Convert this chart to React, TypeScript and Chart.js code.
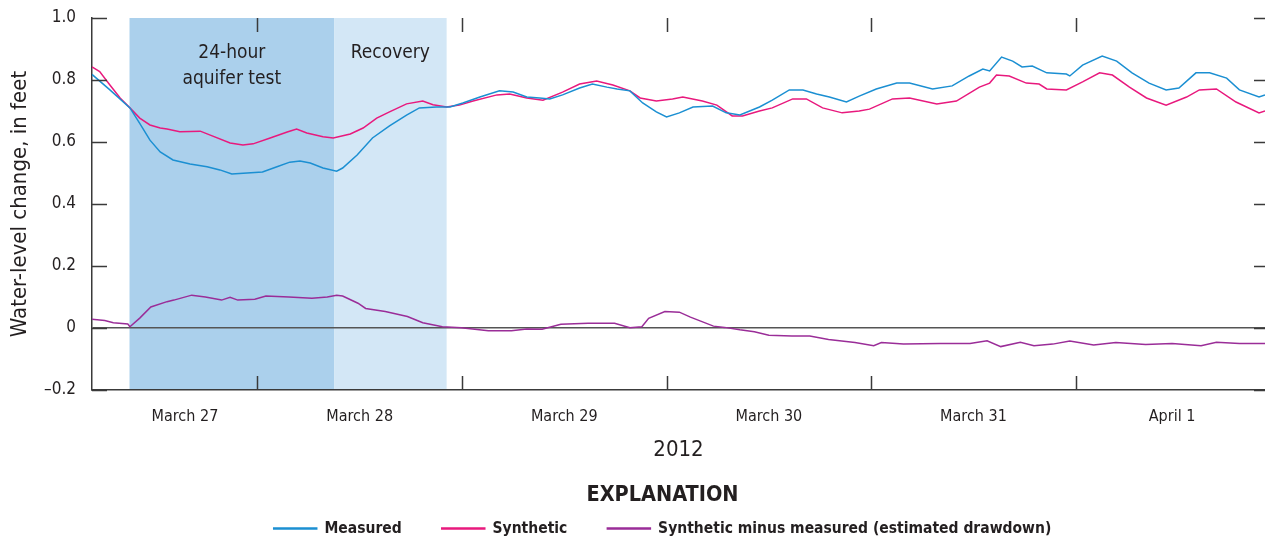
import React, { useEffect, useRef } from "react";
import { Chart, registerables } from "chart.js";

Chart.register(...registerables);

// ---- Data (hours since March 27, 2012 00:00) ----
const measuredHours = [4.6, 6.7, 9.05, 10.2, 11.4, 12.6, 14.1, 16.1, 18.1, 19.6, 21.0, 24.6, 26.3, 27.8, 29.0, 30.2, 31.7, 33.3, 34.0, 35.7, 37.5, 39.5, 41.5, 43.0, 45.0, 46.6, 48.1, 50.1, 52.4, 54.0, 55.6, 57.1, 58.3, 59.8, 61.8, 63.3, 65.0, 66.2, 67.7, 69.2, 70.8, 72.0, 73.5, 75.1, 77.4, 79.0, 80.6, 82.9, 84.4, 86.4, 88.0, 89.6, 91.1, 93.1, 94.6, 96.6, 99.0, 100.5, 103.2, 105.5, 107.5, 109.1, 109.9, 111.3, 112.6, 113.7, 114.9, 116.6, 118.9, 119.3, 120.8, 123.1, 124.8, 126.6, 128.6, 130.6, 132.1, 134.1, 135.7, 137.7, 139.2, 141.5, 142.2];
const measuredValues = [0.818, 0.768, 0.71, 0.66, 0.606, 0.568, 0.542, 0.529, 0.52, 0.51, 0.497, 0.503, 0.52, 0.535, 0.539, 0.532, 0.516, 0.506, 0.516, 0.558, 0.613, 0.652, 0.687, 0.71, 0.713, 0.713, 0.726, 0.745, 0.765, 0.761, 0.745, 0.742, 0.739, 0.752, 0.774, 0.787, 0.777, 0.771, 0.765, 0.726, 0.697, 0.681, 0.694, 0.713, 0.716, 0.694, 0.687, 0.713, 0.735, 0.768, 0.768, 0.755, 0.745, 0.729, 0.748, 0.771, 0.79, 0.79, 0.771, 0.781, 0.813, 0.835, 0.829, 0.874, 0.861, 0.842, 0.845, 0.823, 0.819, 0.813, 0.848, 0.877, 0.861, 0.823, 0.79, 0.768, 0.774, 0.823, 0.823, 0.806, 0.768, 0.745, 0.752];

const syntheticHours = [4.6, 5.5, 6.7, 7.9, 9.05, 10.2, 11.4, 12.6, 13.4, 14.9, 17.3, 18.4, 20.8, 22.3, 23.5, 25.5, 27.5, 28.6, 29.8, 31.7, 32.9, 34.9, 36.4, 38.0, 39.5, 41.5, 43.4, 44.6, 46.2, 47.7, 49.3, 52.1, 53.6, 55.6, 57.5, 59.8, 61.8, 63.8, 65.7, 67.7, 68.9, 70.8, 72.7, 73.9, 76.2, 77.9, 79.7, 80.9, 82.9, 84.4, 86.8, 88.4, 90.3, 92.6, 94.6, 95.8, 98.5, 100.5, 103.7, 106.0, 108.7, 109.9, 110.7, 112.2, 114.2, 115.7, 116.6, 118.9, 120.8, 122.8, 124.3, 126.3, 128.3, 130.6, 133.0, 134.5, 136.5, 138.8, 141.5, 142.2];
const syntheticValues = [0.842, 0.827, 0.784, 0.742, 0.71, 0.677, 0.655, 0.645, 0.642, 0.633, 0.635, 0.623, 0.597, 0.59, 0.594, 0.613, 0.632, 0.642, 0.629, 0.617, 0.613, 0.626, 0.645, 0.677, 0.697, 0.723, 0.732, 0.72, 0.713, 0.719, 0.732, 0.752, 0.755, 0.742, 0.735, 0.761, 0.787, 0.797, 0.784, 0.765, 0.742, 0.732, 0.739, 0.745, 0.732, 0.719, 0.684, 0.684, 0.70, 0.71, 0.739, 0.739, 0.71, 0.694, 0.70, 0.706, 0.739, 0.742, 0.723, 0.732, 0.777, 0.79, 0.816, 0.813, 0.79, 0.787, 0.771, 0.768, 0.794, 0.823, 0.816, 0.777, 0.742, 0.719, 0.745, 0.768, 0.771, 0.729, 0.694, 0.70];

const drawdownHours = [4.6, 6.1, 7.1, 8.8, 9.05, 10.2, 11.5, 13.4, 14.2, 16.3, 17.9, 19.8, 20.8, 21.7, 23.7, 25.0, 27.7, 30.4, 32.2, 33.3, 34.0, 35.8, 36.7, 39.0, 41.6, 43.4, 45.7, 47.9, 51.1, 53.8, 55.6, 57.4, 59.6, 62.8, 65.9, 67.7, 69.1, 69.9, 71.8, 73.5, 74.8, 77.5, 78.8, 80.6, 82.3, 84.0, 86.7, 88.8, 91.0, 94.1, 96.3, 97.2, 99.8, 104.1, 107.6, 109.6, 111.2, 113.5, 115.1, 117.3, 119.3, 122.1, 124.7, 128.2, 131.3, 134.7, 136.5, 139.2, 142.2];
const drawdownValues = [0.028, 0.024, 0.017, 0.013, 0.004, 0.032, 0.068, 0.085, 0.09, 0.106, 0.10, 0.09, 0.099, 0.09, 0.093, 0.103, 0.10, 0.096, 0.10, 0.106, 0.103, 0.08, 0.063, 0.053, 0.037, 0.017, 0.004, 0.001, -0.009, -0.009, -0.003, -0.004, 0.012, 0.015, 0.015, 0.001, 0.004, 0.031, 0.053, 0.051, 0.035, 0.006, 0.002, -0.006, -0.012, -0.023, -0.026, -0.026, -0.037, -0.047, -0.057, -0.047, -0.052, -0.05, -0.05, -0.041, -0.06, -0.046, -0.057, -0.052, -0.042, -0.055, -0.047, -0.053, -0.05, -0.057, -0.046, -0.05, -0.05];

const seriesNames = ["Measured", "Synthetic", "Synthetic minus measured (estimated drawdown)"];

const dayLabels = ["March 27", "March 28", "March 29", "March 30", "March 31", "April 1"];
const dayLabelHours = [15.5, 36, 60, 84, 108, 131.3];
const dayBoundaryHours = [24, 48, 72, 96, 120];
const yTickValues = [-0.2, 0, 0.2, 0.4, 0.6, 0.8, 1.0];

const periodStarts = [9, 33];
const periodEnds = [33, 46.2];
const periodLabels = [["24-hour", "aquifer test"], ["Recovery"]];

const xMin = 4.6;
const xMax = 142.2;

// ---- Styles ----
const FONT = "'Liberation Sans Narrow', 'DejaVu Sans Condensed', 'Roboto', sans-serif";
const TEXT = "#231f20";
const AXIS = "#3a3a3a";
const lineColors = ["#1b8fd2", "#e8197d", "#9a2d98"];
const periodColors = ["#abd0ec", "#d3e7f6"];
const LEGEND_SHIFT = -16;

const pts = (xs: number[], ys: number[]) => xs.map((x, i) => ({ x, y: ys[i] }));

const overlayPlugin = {
  id: "overlay",
  afterLayout(chart: any) {
    const lg = chart.legend;
    if (lg) {
      lg.left += LEGEND_SHIFT;
      lg.right += LEGEND_SHIFT;
    }
  },
  beforeDraw(chart: any) {
    const { ctx, chartArea: a, scales } = chart;
    const x = scales.x;
    ctx.save();
    periodStarts.forEach((s, i) => {
      const x0 = x.getPixelForValue(s);
      const x1 = x.getPixelForValue(periodEnds[i]);
      ctx.fillStyle = periodColors[i];
      ctx.fillRect(x0, a.top, x1 - x0, a.bottom - a.top);
      ctx.fillStyle = TEXT;
      ctx.font = `19px ${FONT}`;
      ctx.textAlign = "center";
      ctx.textBaseline = "middle";
      const cx = (x0 + x1) / 2;
      periodLabels[i].forEach((t, j) => {
        ctx.fillText(t, cx, a.top + 35 + j * 26);
      });
    });
    ctx.restore();
  },
  afterDraw(chart: any) {
    const { ctx, chartArea: a, scales } = chart;
    const x = scales.x;
    const y = scales.y;
    ctx.save();
    ctx.strokeStyle = AXIS;
    ctx.lineWidth = 1.5;
    ctx.beginPath();
    yTickValues.forEach((v) => {
      const py = Math.round(y.getPixelForValue(v)) + 0.5;
      ctx.moveTo(a.left, py);
      ctx.lineTo(a.left + 15, py);
      ctx.moveTo(a.right - 11, py);
      ctx.lineTo(a.right, py);
    });
    dayBoundaryHours.forEach((h) => {
      const px = Math.round(x.getPixelForValue(h)) + 0.5;
      ctx.moveTo(px, a.top);
      ctx.lineTo(px, a.top + 14);
      ctx.moveTo(px, a.bottom - 14);
      ctx.lineTo(px, a.bottom);
    });
    ctx.stroke();
    ctx.restore();
  },
};

export default function App() {
  const ref = useRef<HTMLCanvasElement>(null);

  useEffect(() => {
    const canvas = ref.current;
    if (!canvas) return;
    const seriesData = [
      pts(measuredHours, measuredValues),
      pts(syntheticHours, syntheticValues),
      pts(drawdownHours, drawdownValues),
    ];
    const chart = new Chart(canvas, {
      type: "line",
      data: {
        datasets: seriesNames.map((name, i) => ({
          label: name,
          data: seriesData[i],
          borderColor: lineColors[i],
          backgroundColor: lineColors[i],
          borderWidth: 1.5,
          pointRadius: 0,
          tension: 0,
        })),
      },
      options: {
        animation: false,
        responsive: false,
        devicePixelRatio: 1,
        parsing: false as any,
        layout: { padding: { top: 18, left: 0, right: 0, bottom: -7.25 } },
        plugins: {
          tooltip: { enabled: false },
          legend: {
            position: "bottom",
            fullSize: false,
            align: "center",
            title: {
              display: true,
              text: "EXPLANATION",
              color: TEXT,
              font: { family: FONT, size: 21.5, weight: "bold" },
              padding: { top: 0, bottom: -29.65 },
            },
            labels: {
              boxWidth: 43,
              boxHeight: 1,
              padding: 40,
              color: TEXT,
              font: { family: FONT, size: 15.5, weight: "bold" },
            },
          },
        },
        scales: {
          x: {
            type: "linear",
            min: xMin,
            max: xMax,
            afterBuildTicks: (scale: any) => {
              scale.ticks = dayLabelHours.map((v) => ({ value: v }));
            },
            afterFit: (scale: any) => {
              scale.height = 94.6;
            },
            grid: { display: false, drawTicks: false },
            border: { display: true, color: AXIS, width: 1.5 },
            ticks: {
              autoSkip: false,
              maxRotation: 0,
              padding: 17,
              color: TEXT,
              font: { family: FONT, size: 16 },
              callback: (_v: any, i: number) => dayLabels[i],
            },
            title: {
              display: true,
              text: "2012",
              color: TEXT,
              font: { family: FONT, size: 22 },
              padding: { top: 0, bottom: 21 },
            },
          },
          y: {
            min: -0.2,
            max: 1.0,
            afterBuildTicks: (scale: any) => {
              scale.ticks = yTickValues.map((v) => ({ value: v }));
            },
            afterFit: (scale: any) => {
              scale.width = 92;
              scale.paddingTop = 0;
              scale.paddingBottom = 0;
            },
            grid: {
              drawTicks: false,
              lineWidth: 1.5,
              color: (c: any) => (c.tick && Math.abs(c.tick.value) < 1e-9 ? "#555555" : "rgba(0,0,0,0)"),
            },
            border: { display: true, color: AXIS, width: 1.5 },
            ticks: {
              padding: 16,
              color: TEXT,
              font: { family: FONT, size: 17 },
              callback: (v: any) => {
                const n = Number(v);
                if (Math.abs(n) < 1e-9) return "0";
                return (n < 0 ? "\u2013" : "") + Math.abs(n).toFixed(1);
              },
            },
            title: {
              display: true,
              text: "Water-level change, in feet",
              color: TEXT,
              font: { family: FONT, size: 22 },
              padding: { top: 7, bottom: 0 },
            },
          },
        },
      },
      plugins: [overlayPlugin],
    } as any);
    return () => chart.destroy();
  }, []);

  return (
    <div style={{ position: "fixed", left: 0, top: 0, width: 1265, height: 539, background: "#ffffff" }}>
      <canvas ref={ref} width={1265} height={539} style={{ display: "block", width: 1265, height: 539 }} />
    </div>
  );
}
